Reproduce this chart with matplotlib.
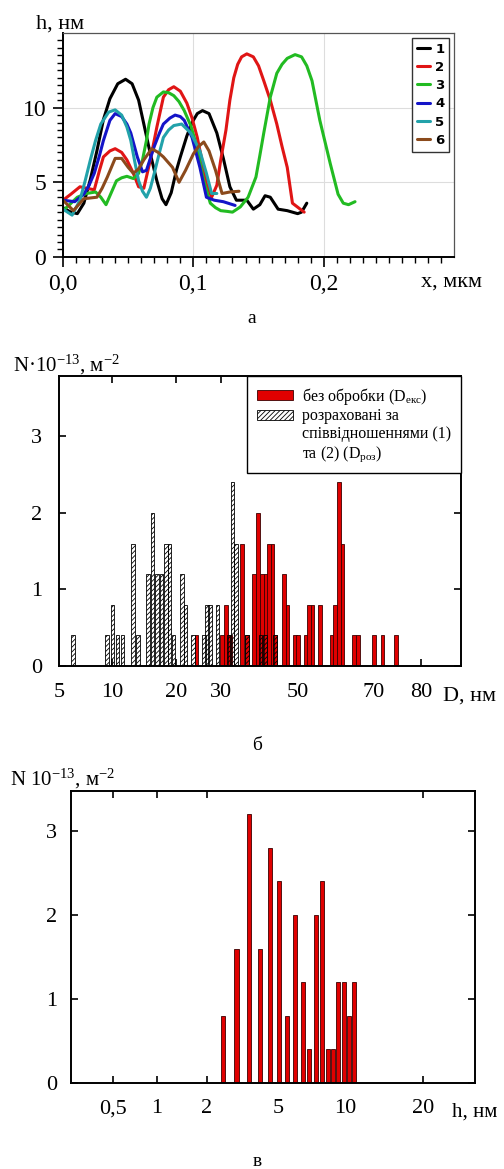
import numpy as np
import matplotlib
matplotlib.use("Agg")
import matplotlib.pyplot as plt
from matplotlib.patches import Patch

plt.rcParams['font.family'] = ['Liberation Serif', 'DejaVu Serif']
plt.rcParams['mathtext.fontset'] = 'custom'
plt.rcParams['mathtext.rm'] = 'Liberation Serif'
plt.rcParams['mathtext.it'] = 'Liberation Serif:italic'
plt.rcParams['hatch.linewidth'] = 0.6

# ---- panel a: height profiles h(x), x in um, h in nm
x1 = [0.0, 0.006, 0.011, 0.016, 0.021, 0.026, 0.031, 0.036, 0.042, 0.048, 0.053, 0.058, 0.062, 0.067,
      0.072, 0.076, 0.079, 0.083, 0.087, 0.090, 0.095, 0.099, 0.103, 0.107, 0.112, 0.118, 0.123,
      0.128, 0.133, 0.141, 0.146, 0.151, 0.155, 0.159, 0.165, 0.172, 0.180, 0.183, 0.187]
h1 = [3.3, 3.0, 2.9, 3.6, 5.2, 7.1, 9.2, 10.6, 11.6, 11.9, 11.6, 10.5, 8.9, 6.9,
      5.1, 3.9, 3.5, 4.3, 5.8, 6.7, 8.1, 9.0, 9.6, 9.8, 9.6, 8.3, 6.6,
      4.7, 3.8, 3.8, 3.2, 3.5, 4.1, 4.0, 3.2, 3.1, 2.9, 3.0, 3.6]
x2 = [0.0, 0.006, 0.013, 0.018, 0.024, 0.028, 0.031, 0.036, 0.040, 0.045, 0.049, 0.054, 0.058, 0.062,
      0.067, 0.072, 0.077, 0.081, 0.085, 0.090, 0.095, 0.099, 0.103, 0.107, 0.110, 0.114, 0.118,
      0.121, 0.125, 0.128, 0.131, 0.134, 0.137, 0.141, 0.146, 0.150, 0.154, 0.159, 0.164, 0.168,
      0.172, 0.176, 0.182, 0.185]
h2 = [3.8, 4.2, 4.7, 4.6, 4.5, 5.8, 6.7, 7.1, 7.25, 7.0, 6.5, 5.6, 4.7, 4.6,
      6.5, 8.7, 10.7, 11.2, 11.4, 11.1, 10.3, 9.3, 8.0, 6.3, 4.9, 4.0, 4.8,
      6.5, 8.5, 10.5, 12.0, 12.9, 13.4, 13.6, 13.4, 12.8, 11.8, 10.5, 8.9, 7.4,
      6.0, 3.6, 3.2, 3.0]
x3 = [0.0, 0.005, 0.011, 0.018, 0.025, 0.029, 0.033, 0.037, 0.041, 0.045, 0.049, 0.054, 0.058, 0.061,
      0.064, 0.066, 0.069, 0.072, 0.077, 0.081, 0.085, 0.089, 0.093, 0.098, 0.102, 0.108, 0.113,
      0.117, 0.121, 0.126, 0.130, 0.136, 0.142, 0.148, 0.151, 0.154, 0.159, 0.164, 0.168, 0.172,
      0.178, 0.183, 0.187, 0.191, 0.197, 0.205, 0.211, 0.215, 0.219, 0.224]
h3 = [3.1, 3.5, 4.0, 4.25, 4.35, 4.0, 3.5, 4.3, 5.1, 5.3, 5.4, 5.25, 5.6, 6.5,
      7.8, 8.9, 10.0, 10.7, 11.05, 11.0, 10.8, 10.4, 9.8, 8.8, 7.6, 5.1, 3.6,
      3.3, 3.1, 3.05, 3.0, 3.35, 4.0, 5.35, 6.8, 8.3, 10.7, 12.3, 12.9, 13.3,
      13.55, 13.4, 12.8, 11.8, 9.15, 6.25, 4.2, 3.6, 3.5, 3.7]
x4 = [0.0, 0.009, 0.016, 0.020, 0.024, 0.028, 0.031, 0.036, 0.040, 0.045, 0.049, 0.052, 0.057, 0.061,
      0.064, 0.067, 0.070, 0.074, 0.077, 0.082, 0.086, 0.090, 0.093, 0.099, 0.105, 0.110, 0.116,
      0.123, 0.132]
h4 = [3.8, 3.7, 4.2, 4.8, 5.6, 6.8, 7.8, 9.15, 9.6, 9.4, 8.9, 8.3, 6.7, 5.7,
      5.8, 6.6, 7.4, 8.3, 8.9, 9.3, 9.5, 9.4, 9.15, 8.0, 6.0, 4.0, 3.8,
      3.7, 3.45]
x5 = [0.0, 0.007, 0.013, 0.017, 0.021, 0.025, 0.029, 0.035, 0.040, 0.045, 0.049, 0.052, 0.055, 0.058,
      0.061, 0.064, 0.067, 0.070, 0.074, 0.077, 0.081, 0.085, 0.091, 0.098, 0.105, 0.110, 0.114,
      0.118]
h5 = [3.2, 2.8, 3.8, 5.1, 6.5, 7.8, 8.9, 9.7, 9.85, 9.5, 8.7, 7.8, 6.4, 5.1,
      4.4, 4.0, 4.6, 5.6, 7.0, 8.0, 8.5, 8.8, 8.9, 8.3, 7.1, 5.6, 4.25,
      4.25]
x6 = [0.0, 0.008, 0.016, 0.026, 0.030, 0.034, 0.040, 0.045, 0.050, 0.054, 0.058, 0.062, 0.068, 0.073,
      0.077, 0.084, 0.089, 0.094, 0.100, 0.104, 0.108, 0.112, 0.117, 0.122, 0.128, 0.135]
h6 = [3.8, 3.1, 3.9, 4.0, 4.6, 5.35, 6.6, 6.6, 6.0, 5.6, 5.9, 6.5, 7.25, 7.0,
      6.7, 6.0, 5.0, 5.8, 6.9, 7.4, 7.7, 7.1, 5.8, 4.25, 4.35, 4.4]
curve_names = ['1', '2', '3', '4', '5', '6']
curve_colors = ['#000000', '#e01515', '#22bb22', '#1414c8', '#22a2aa', '#8b4a1c']

# ---- panel b: size distributions, D in nm, N in 1e13 m^-2
d_calc = [6.3, 9.5, 10.0, 10.85, 11.64, 13.23, 14.05, 15.66, 16.31, 17.08, 17.76, 18.44, 19.02, 19.65,
          21.35, 22.16, 23.77, 26.2, 26.95, 27.6, 29.18, 31.96, 33.05, 33.9, 36.78, 40.25, 41.4, 44.08]
n_calc = [0.4, 0.4, 0.8, 0.4, 0.4, 1.6, 0.4, 1.2, 2.0, 1.2, 1.2, 1.6, 1.6, 0.4,
          1.2, 0.8, 0.4, 0.4, 0.8, 0.8, 0.8, 0.4, 2.4, 1.6, 0.4, 0.4, 0.4, 0.4]
d_exp = [24.59, 30.34, 31.38, 32.35, 35.55, 36.7, 38.55, 39.65, 40.7, 41.66, 42.5, 43.38, 44.2, 46.35,
         47.29, 49.2, 50.13, 52.1, 52.96, 53.88, 55.9, 58.86, 59.78, 60.75, 61.74, 64.7, 65.73, 70.0,
         71.82, 74.75]
n_exp = [0.4, 0.4, 0.8, 0.4, 1.6, 0.4, 1.2, 2.0, 1.2, 1.2, 1.6, 1.6, 0.4, 1.2,
         0.8, 0.4, 0.4, 0.4, 0.8, 0.8, 0.8, 0.4, 0.8, 2.4, 1.6, 0.4, 0.4, 0.4,
         0.4, 0.4]
d_ticks = [5, 10, 20, 30, 50, 70, 80]
d_ticklabels = ['5', '10', '20', '30', '50', '70', '80']

# ---- panel c: height distribution, h in nm
h_vals = [2.67, 3.25, 3.76, 4.23, 4.65, 5.07, 5.65, 6.25, 6.83, 7.3, 7.8, 8.25, 8.71, 9.12,
          9.5, 9.91, 10.51, 11.12]
n_h = [0.8, 1.6, 3.2, 1.6, 2.8, 2.4, 0.8, 2.0, 1.2, 0.4, 2.0, 2.4, 0.4, 0.4,
       1.2, 1.2, 0.8, 1.2]
h_ticks = [0.5, 1, 2, 5, 10, 20]
h_ticklabels = ['0,5', '1', '2', '5', '10', '20']


def piecewise(vals, pos):
    # the original axes are neither linear nor log: map label values onto their places
    fwd = lambda v: np.interp(v, vals, pos)
    inv = lambda p: np.interp(p, pos, vals)
    return fwd, inv


def bars(ax, fwd, inv, xs, hs, w, **kw):
    p = fwd(np.asarray(xs, float))
    left = inv(p - w / 2)
    right = inv(p + w / 2)
    return ax.bar(left, hs, width=right - left, align='edge', **kw)


fig = plt.figure(figsize=(5.04, 11.69), dpi=100)

# ================= a =================
ax1 = fig.add_axes([0.125, 0.7802, 0.776, 0.1916])
for xs, hs, c, n in zip([x1, x2, x3, x4, x5, x6], [h1, h2, h3, h4, h5, h6], curve_colors, curve_names):
    ax1.plot(xs, hs, color=c, lw=2.2, label=n, solid_joinstyle='round', solid_capstyle='round')
ax1.set_xlim(0, 0.3)
ax1.set_ylim(0, 15)
ax1.set_xticks([0, 0.1, 0.2])
ax1.set_xticklabels(['0,0', '0,1', '0,2'])
ax1.set_xticks(np.arange(0, 0.3, 0.01), minor=True)
ax1.set_yticks([0, 5, 10])
ax1.set_yticks(np.arange(0, 15, 0.5), minor=True)
ax1.grid(True, which='major', color='#dddddd', lw=0.8)
ax1.set_axisbelow(True)
ax1.tick_params(which='major', direction='out', length=7, width=1.2, labelsize=17, pad=5)
ax1.tick_params(which='minor', direction='out', length=4, width=1)
for s in ['left', 'bottom']:
    ax1.spines[s].set_linewidth(1.4)
for s in ['top', 'right']:
    ax1.spines[s].set_color('#555555')
    ax1.spines[s].set_linewidth(0.9)
leg1 = ax1.legend(loc='upper right', bbox_to_anchor=(0.987, 0.978), borderaxespad=0,
                  prop={'weight': 'bold', 'family': 'DejaVu Sans', 'size': 9.5},
                  handlelength=1.0, handletextpad=0.4, labelspacing=0.4,
                  fancybox=False, edgecolor='#333333', framealpha=1, borderpad=0.35)
leg1.get_frame().set_linewidth(1.0)
fig.text(36 / 504, 1 - 29 / 1169, 'h, нм', fontsize=16, ha='left', va='baseline')
fig.text(421 / 504, 1 - 287 / 1169, 'x, мкм', fontsize=16, ha='left', va='baseline')
fig.text(252 / 504, 1 - 323 / 1169, 'а', fontsize=14, ha='center', va='baseline')

# ================= б =================
ax2 = fig.add_axes([0.117, 0.4303, 0.7976, 0.2481])
fb, ib = piecewise([0, 5, 10, 20, 30, 50, 70, 80, 100], [4.3, 59, 112.3, 175.7, 221, 297.7, 374, 420.7, 514])
ax2.set_xscale('function', functions=(fb, ib))
ax2.set_xlim(5, 88.6)
ax2.set_ylim(0, 3.79)
red_b = bars(ax2, fb, ib, d_exp, n_exp, 3.7, color='#e00000', edgecolor='#3a0000', linewidth=0.6)
hat_b = bars(ax2, fb, ib, d_calc, n_calc, 3.5, facecolor='none', edgecolor='black',
             linewidth=0.6, hatch='///////')
ax2.set_xticks(d_ticks)
ax2.set_xticklabels(d_ticklabels)
ax2.set_yticks([0, 1, 2, 3])
ax2.tick_params(direction='in', top=True, right=True, length=5, width=1.2, labelsize=16)
ax2.tick_params(axis='x', pad=12)
ax2.tick_params(axis='y', pad=12)
for i, t in enumerate(ax2.xaxis.get_major_ticks()):
    if d_ticks[i] in (5, 50, 70):
        t.tick1line.set_visible(False)
        t.tick2line.set_visible(False)
    if d_ticks[i] == 30:
        t.tick1line.set_visible(False)
for s in ax2.spines.values():
    s.set_linewidth(1.4)
blank = Patch(visible=False)
leg2 = ax2.legend([red_b, hat_b, blank, blank],
                  ['без обробки (D$_{\\mathrm{екс}}$)', 'розраховані за',
                   'співвідношеннями (1)', 'та (2) (D$_{\\mathrm{роз}}$)'],
                  loc='upper right', bbox_to_anchor=(1.0, 1.0), borderaxespad=0,
                  fontsize=11.5, handlelength=2.3, handleheight=0.55, handletextpad=0.55,
                  labelspacing=0.12, fancybox=False, edgecolor='black', framealpha=1,
                  borderpad=0.6)
leg2.get_frame().set_linewidth(1.0)
fig.text(13 / 504, 1 - 371 / 1169, 'N·10$^{-13}$, м$^{-2}$', fontsize=15, ha='left', va='baseline')
fig.text(443 / 504, 1 - 701 / 1169, 'D, нм', fontsize=16, ha='left', va='baseline')
fig.text(257 / 504, 1 - 750 / 1169, 'б', fontsize=14, ha='center', va='baseline')

# ================= в =================
ax3 = fig.add_axes([0.1403, 0.0738, 0.8022, 0.2496])
fc, ic = piecewise([0, 0.5, 1, 2, 5, 10, 20, 26.7, 40],
                   [70.7, 113.3, 156.7, 206.7, 278.3, 345, 422.7, 475, 578])
ax3.set_xscale('function', functions=(fc, ic))
ax3.set_xlim(0, 26.7)
ax3.set_ylim(0, 3.48)
bars(ax3, fc, ic, h_vals, n_h, 4.2, color='#e00000', edgecolor='#3a0000', linewidth=0.6)
ax3.set_xticks(h_ticks)
ax3.set_xticklabels(h_ticklabels)
ax3.set_yticks([0, 1, 2, 3])
ax3.tick_params(direction='in', top=True, right=True, length=5, width=1.2, labelsize=16)
ax3.tick_params(axis='x', pad=12)
ax3.tick_params(axis='y', pad=10)
for i, t in enumerate(ax3.xaxis.get_major_ticks()):
    if h_ticks[i] in (5, 10):
        t.tick1line.set_visible(False)
        t.tick2line.set_visible(False)
for s in ax3.spines.values():
    s.set_linewidth(1.4)
fig.text(10 / 504, 1 - 785 / 1169, 'N 10$^{-13}$, м$^{-2}$', fontsize=15, ha='left', va='baseline')
fig.text(452 / 504, 1 - 1117 / 1169, 'h, нм', fontsize=15, ha='left', va='baseline')
fig.text(257 / 504, 1 - 1166 / 1169, 'в', fontsize=14, ha='center', va='baseline')

fig.savefig('out.png', dpi=100)
